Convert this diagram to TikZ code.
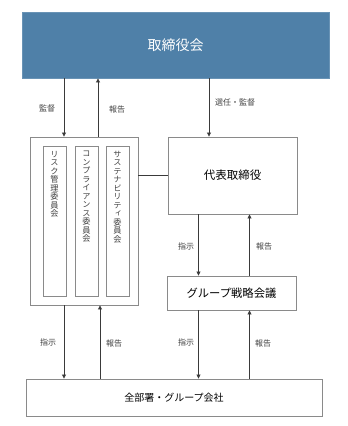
\documentclass[tikz,border=0pt]{standalone}
\usepackage{fontspec}
\setmainfont{Noto Sans CJK JP}
\newfontfamily\jpv[RawFeature=+vert]{Noto Sans CJK JP}
\usetikzlibrary{arrows.meta}
\definecolor{boardblue}{HTML}{4F80A8}
\definecolor{boxgray}{HTML}{8A8A8A}
\definecolor{linegray}{HTML}{3A3A3A}
\definecolor{labelgray}{HTML}{404040}
\tikzset{
  box/.style={draw=boxgray, line width=0.9pt, fill=white, inner sep=0pt, anchor=center},
  col/.style={draw=boxgray, line width=0.9pt, minimum width=23pt, minimum height=150pt, inner sep=0pt},
  coltext/.style={anchor=north, align=center, font=\jpv\fontsize{8.2}{8.5}\selectfont, inner sep=0pt, text=labelgray},
  arr/.style={draw=linegray, line width=0.8pt, -{Triangle[length=4pt,width=4pt]}},
  lbl/.style={font=\fontsize{8}{9}\selectfont, text=labelgray, inner sep=0pt},
}
\begin{document}
\begin{tikzpicture}[x=1pt,y=-1pt]
\useasboundingbox (0,0) rectangle (348,426);
\node[box, fill=boardblue, draw=boardblue!85!white, minimum width=307pt, minimum height=66pt,
      text=white, font=\fontsize{14}{16}\selectfont] (top) at (175.5,45) {取締役会};
\node[box, minimum width=108pt, minimum height=168pt] (comm) at (84,221) {};
\node[col] (c1) at (54.5,221) {};
\node[col] (c2) at (86.5,221) {};
\node[col] (c3) at (117.5,221) {};
\node[coltext] (t1) at (54.5,151) {リ\\ス\\ク\\管\\理\\委\\員\\会};
\node[coltext] (t2) at (86.5,151) {コ\\ン\\プ\\ラ\\イ\\ア\\ン\\ス\\委\\員\\会};
\node[coltext] (t3) at (117.5,151) {サ\\ス\\テ\\ナ\\ビ\\リ\\テ\\ィ\\委\\員\\会};
\node[box, minimum width=129pt, minimum height=77pt, font=\fontsize{11.5}{13}\selectfont] (rep) at (232.5,175.5) {代表取締役};
\node[box, minimum width=129pt, minimum height=34pt, font=\fontsize{11.3}{13}\selectfont] (strat) at (231.5,293) {グループ戦略会議};
\node[box, minimum width=296pt, minimum height=37pt, font=\fontsize{10}{12}\selectfont] (all) at (174,397.5) {全部署・グループ会社};

\coordinate (xa) at (64,0);
\coordinate (xb) at (98,0);
\coordinate (xc) at (209,0);
\coordinate (xd) at (198.5,0);
\coordinate (xe) at (249.5,0);
\coordinate (xf) at (64,0);
\coordinate (xg) at (100,0);

\draw[arr] (top.south -| xa) -- (comm.north -| xa);
\draw[arr] (comm.north -| xb) -- (top.south -| xb);
\draw[arr] (top.south -| xc) -- (rep.north -| xc);
\draw[draw=linegray, line width=0.8pt] (comm.east |- rep.west) -- (rep.west);
\draw[arr] (rep.south -| xd) -- (strat.north -| xd);
\draw[arr] (strat.north -| xe) -- (rep.south -| xe);
\draw[arr] (comm.south -| xf) -- (all.north -| xf);
\draw[arr] (all.north -| xg) -- (comm.south -| xg);
\draw[arr] (strat.south -| xd) -- (all.north -| xd);
\draw[arr] (all.north -| xe) -- (strat.south -| xe);

\node[lbl] (l1) at (47,108) {監督};
\node[lbl] (l2) at (117,109) {報告};
\node[lbl] (l3) at (235,102) {選任・監督};
\node[lbl] (l4) at (186,246) {指示};
\node[lbl] (l5) at (264,246) {報告};
\node[lbl] (l6) at (48,342) {指示};
\node[lbl] (l7) at (114,343) {報告};
\node[lbl] (l8) at (186,342) {指示};
\node[lbl] (l9) at (263,343) {報告};
\end{tikzpicture}
\end{document}
